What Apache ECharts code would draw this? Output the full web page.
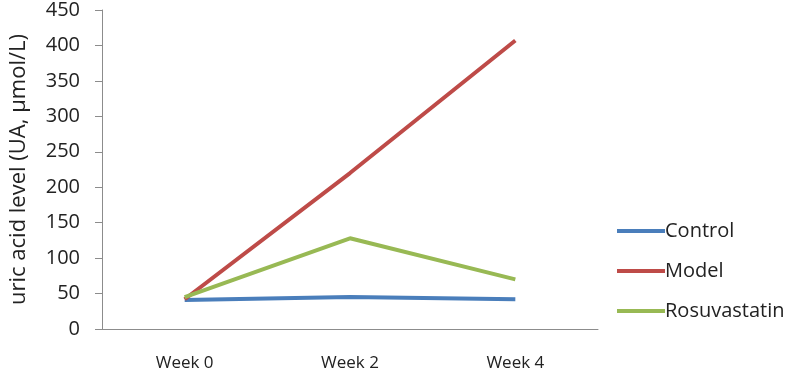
<!DOCTYPE html>
<html>
<head>
<meta charset="utf-8">
<title>uric acid</title>
<script src="https://cdn.jsdelivr.net/npm/echarts@6/dist/echarts.min.js"></script>
</head>
<body style="margin:0">
<div id="box" style="width:786px;height:374px;"></div>
<script>
var weeks = ['Week 0', 'Week 2', 'Week 4']
var control = [41, 45, 42]
var model = [42, 220, 407]
var rosuvastatin = [45, 128, 70]

var chart = echarts.init(document.getElementById('box'))
var axisColor = '#8c8c8c'
var font = 'Open Sans'

function line(name, data, color) {
  return {
    name: name,
    type: 'line',
    data: data,
    symbol: 'none',
    lineStyle: { width: 4, color: color },
    itemStyle: { color: color }
  }
}

chart.setOption({
  animation: false,
  grid: { left: 98, right: 188, top: 10, bottom: 45 },
  legend: {
    orient: 'vertical',
    left: 612,
    top: 216,
    icon: 'rect',
    itemWidth: 48,
    itemHeight: 4,
    itemGap: 20,
    textStyle: { fontFamily: font, fontSize: 20, color: '#222', padding: [0, 0, 0, -5] }
  },
  xAxis: {
    type: 'category',
    data: weeks,
    axisLine: { lineStyle: { color: axisColor, width: 1 } },
    axisTick: { length: 9, lineStyle: { color: axisColor } },
    axisLabel: { fontFamily: font, fontSize: 17, color: '#222', margin: 26 }
  },
  yAxis: {
    type: 'value',
    min: 0,
    max: 450,
    interval: 50,
    name: 'uric acid level (UA, μmol/L)',
    nameLocation: 'middle',
    nameGap: 72,
    nameTextStyle: { fontFamily: font, fontSize: 22, color: '#222' },
    splitLine: { show: false },
    axisLine: { show: true, lineStyle: { color: axisColor, width: 1 } },
    axisTick: { show: true, length: 7, lineStyle: { color: axisColor } },
    axisLabel: { fontFamily: font, fontSize: 20, color: '#222', margin: 22 }
  },
  series: [
    line('Control', control, '#4a7ebb'),
    line('Model', model, '#be4b48'),
    line('Rosuvastatin', rosuvastatin, '#98b954')
  ]
})
</script>
</body>
</html>
